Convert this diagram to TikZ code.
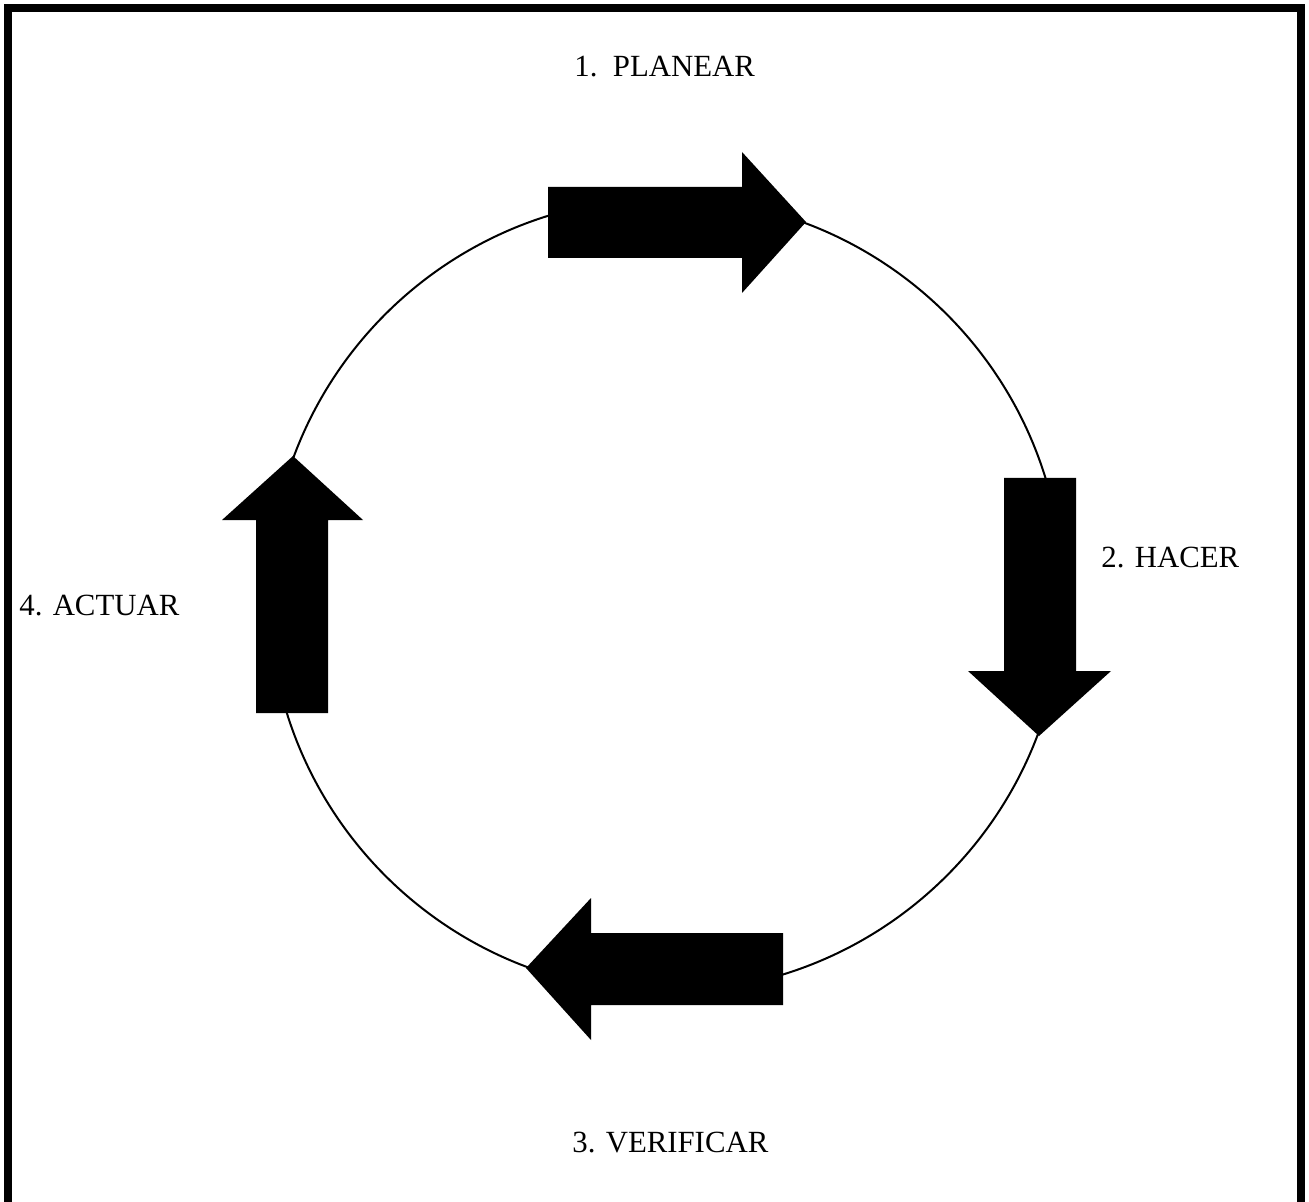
\documentclass[tikz,border=0pt]{standalone}
\usepackage{fontspec}
\setmainfont{Liberation Serif}
\begin{document}
\begin{tikzpicture}[x=0.5pt,y=-0.5pt,
  lbl/.style={inner sep=0pt,anchor=base west,font=\fontsize{15.4pt}{18pt}\selectfont},
  bigarrow/.style={fill=black,draw=none}]
\useasboundingbox (0,0) rectangle (1309,1202);
\fill[white] (0,0) rectangle (1309,1202);
% frame
\draw[line width=4pt] (8,1240) -- (8,8) -- (1301,8) -- (1301,1240);
% circle
\coordinate (c) at (666,595);
\draw[line width=1pt] (c) circle[radius=397];
% arrows
\fill[bigarrow] (548,187) -- (742,187) -- (742,152) -- (806,222) -- (742,293) -- (742,258) -- (548,258) -- cycle;
\fill[bigarrow] (1004,478) -- (1076,478) -- (1076,671) -- (1111,671) -- (1039,736) -- (968,671) -- (1004,671) -- cycle;
\fill[bigarrow] (783,933) -- (591,933) -- (591,898) -- (526,968) -- (591,1040) -- (591,1005) -- (783,1005) -- cycle;
\fill[bigarrow] (256,713) -- (256,520) -- (222,520) -- (293,456) -- (363,520) -- (328,520) -- (328,713) -- cycle;
% labels
\node[lbl] (plan) at (574,77) {1.\ \ PLANEAR};
\node[lbl] (hacer) at (1101,567) {2. HACER};
\node[lbl] (verif) at (572,1152) {3. VERIFICAR};
\node[lbl] (actuar) at (19,615) {4. ACTUAR};
\end{tikzpicture}
\end{document}
